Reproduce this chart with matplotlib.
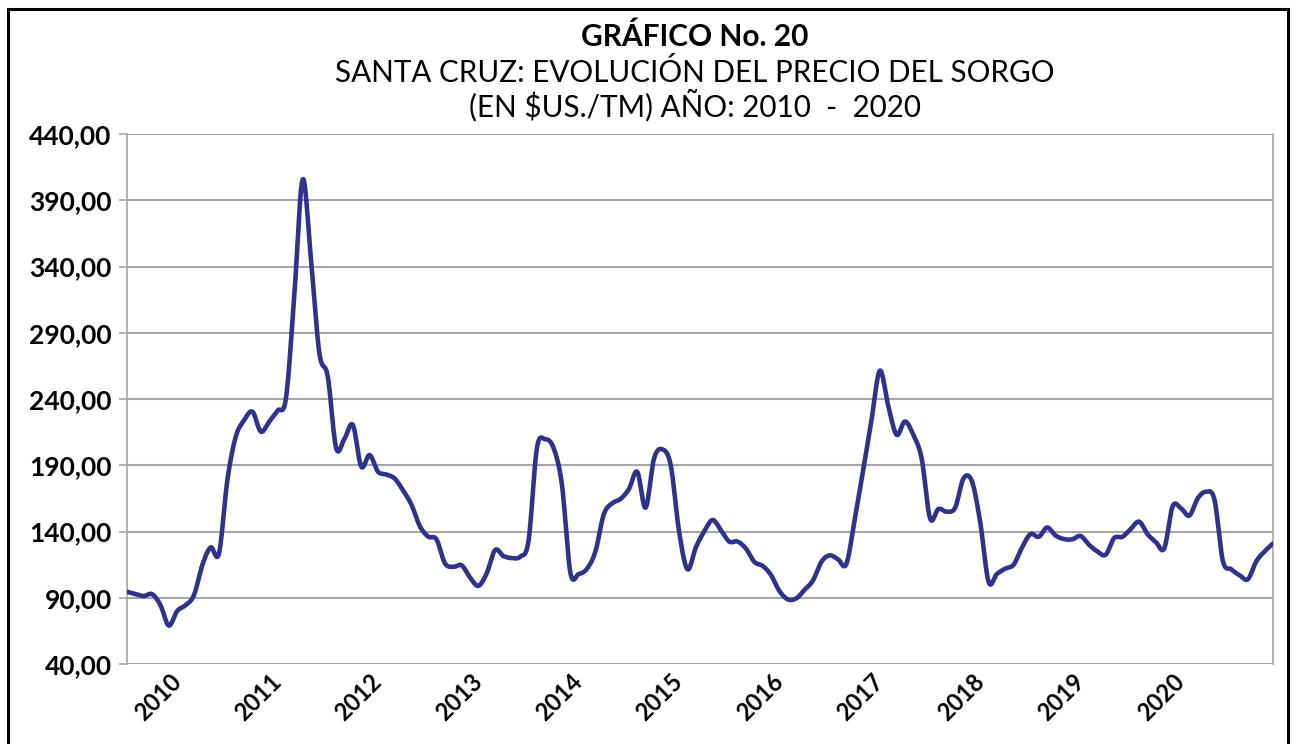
import numpy as np
import matplotlib
matplotlib.use("Agg")
import matplotlib.pyplot as plt
import matplotlib.ticker as ticker
import matplotlib.transforms as mtransforms
from matplotlib.patches import Rectangle

# monthly price, $us/TM
precio = [
    94.5, 92.8, 91.3, 92.7, 84.4, 69.0, 80.0, 84.4, 91.9, 114.6,
    128.0, 123.5, 178.9, 211.5, 224.0, 230.4, 215.4, 222.9, 231.3, 240.5,
    318.0, 405.8, 344.5, 274.5, 257.0, 203.0, 210.0, 220.4, 189.0, 197.7,
    185.2, 183.0, 180.0, 171.0, 160.3, 144.1, 136.2, 134.0, 116.1, 113.3,
    114.5, 105.4, 99.0, 108.4, 126.0, 121.5, 120.0, 121.0, 133.0, 202.8,
    209.6, 203.0, 175.0, 109.0, 107.9, 112.0, 125.0, 153.0, 161.3, 164.6,
    172.0, 185.0, 158.0, 195.0, 202.0, 190.0, 140.0, 111.5, 128.0, 140.0,
    148.7, 141.0, 132.4, 132.4, 127.0, 117.0, 114.0, 107.0, 95.0, 88.8,
    89.5, 96.0, 103.0, 117.0, 122.0, 119.0, 115.5, 149.5, 186.0, 224.0,
    261.4, 235.0, 213.0, 223.0, 213.0, 195.0, 150.0, 157.0, 155.0, 158.0,
    180.0, 178.0, 147.0, 102.0, 108.0, 112.0, 115.0, 128.0, 138.0, 136.0,
    143.0, 137.0, 134.3, 134.1, 136.6, 130.0, 125.0, 122.5, 135.0, 136.0,
    142.0, 147.4, 138.0, 132.0, 127.3, 159.0, 157.5, 152.0, 165.0, 170.0,
    164.0, 118.0, 111.5, 107.0, 104.0, 117.5, 125.0, 131.0,
]
anios = ["2010", "2011", "2012", "2013", "2014", "2015",
         "2016", "2017", "2018", "2019", "2020"]
pos_anios = [6, 18, 30, 42, 54, 66, 78, 90, 102, 114, 126]
y_ticks = [40, 90, 140, 190, 240, 290, 340, 390, 440]

titulo = "GRÁFICO No. 20"
subtitulo1 = "SANTA CRUZ: EVOLUCIÓN DEL PRECIO DEL SORGO"
subtitulo2 = "(EN $US./TM) AÑO: 2010  -  2020"


def smooth(x, y, n=12):
    # excel-like smoothed line (catmull-rom as bezier)
    x = np.asarray(x, float)
    y = np.asarray(y, float)
    px = np.concatenate([[x[0]], x, [x[-1]]])
    py = np.concatenate([[y[0]], y, [y[-1]]])
    xs, ys = [], []
    t = np.linspace(0, 1, n, endpoint=False)
    for k in range(1, len(px) - 2):
        p0, p1, p2, p3 = (np.array([px[j], py[j]]) for j in range(k - 1, k + 3))
        c1 = p1 + (p2 - p0) / 6.0
        c2 = p2 - (p3 - p1) / 6.0
        b = ((1 - t) ** 3)[:, None] * p1 + (3 * (1 - t) ** 2 * t)[:, None] * c1 \
            + (3 * (1 - t) * t ** 2)[:, None] * c2 + (t ** 3)[:, None] * p2
        xs.append(b[:, 0])
        ys.append(b[:, 1])
    xs.append([x[-1]])
    ys.append([y[-1]])
    return np.concatenate(xs), np.concatenate(ys)


plt.rcParams["font.family"] = ["Lato", "DejaVu Sans"]

fig = plt.figure(figsize=(12.97, 7.44), dpi=100)
ax = fig.add_axes([127 / 1297, 1 - 664 / 744, 1146 / 1297, 530 / 744])

x = np.arange(len(precio))
sx, sy = smooth(x, precio)
ax.plot(sx, sy, color="#2E3192", lw=3.3, solid_capstyle="round", zorder=3)

ax.set_xlim(0, len(precio) - 1)
ax.set_ylim(40, 440)
ax.set_yticks(y_ticks)
ax.yaxis.set_major_formatter(
    ticker.FuncFormatter(lambda v, p: f"{v:.2f}".replace(".", ","))
)
ax.set_xticks(pos_anios)
ax.set_xticklabels(anios, rotation=45, ha="right", va="top",
                   rotation_mode="anchor")
ax.tick_params(axis="x", length=0, pad=4, labelsize=17)
ax.tick_params(axis="y", length=6, width=1.2, color="#A6A6A6", pad=5,
               labelsize=19)
shift = mtransforms.ScaledTranslation(-8 / 100, 0, fig.dpi_scale_trans)
for lab in ax.get_xticklabels():
    lab.set_fontweight("bold")
    lab.set_transform(lab.get_transform() + shift)
for lab in ax.get_yticklabels():
    lab.set_fontweight("bold")

ax.grid(axis="y", color="#A6A6A6", lw=1.5)
ax.set_axisbelow(True)
for s in ["top", "bottom"]:
    ax.spines[s].set_visible(False)
for s in ["left", "right"]:
    ax.spines[s].set_color("#A6A6A6")
    ax.spines[s].set_linewidth(1.2)

cx = 695 / 1297
fig.text(cx, 1 - 37 / 744, titulo, ha="center", va="center",
         fontsize=21.5, fontweight="bold")
fig.text(cx, 1 - 73 / 744, subtitulo1, ha="center", va="center", fontsize=21.3)
fig.text(cx, 1 - 105 / 744, subtitulo2, ha="center", va="center", fontsize=21.3)

# outer frame (bottom edge runs off the picture)
fig.add_artist(Rectangle((8 / 1297, -0.05), 1280 / 1297, 1.05 - 9 / 744,
                         transform=fig.transFigure, fill=False,
                         ec="black", lw=2.2))

fig.savefig("out.png", dpi=100)
